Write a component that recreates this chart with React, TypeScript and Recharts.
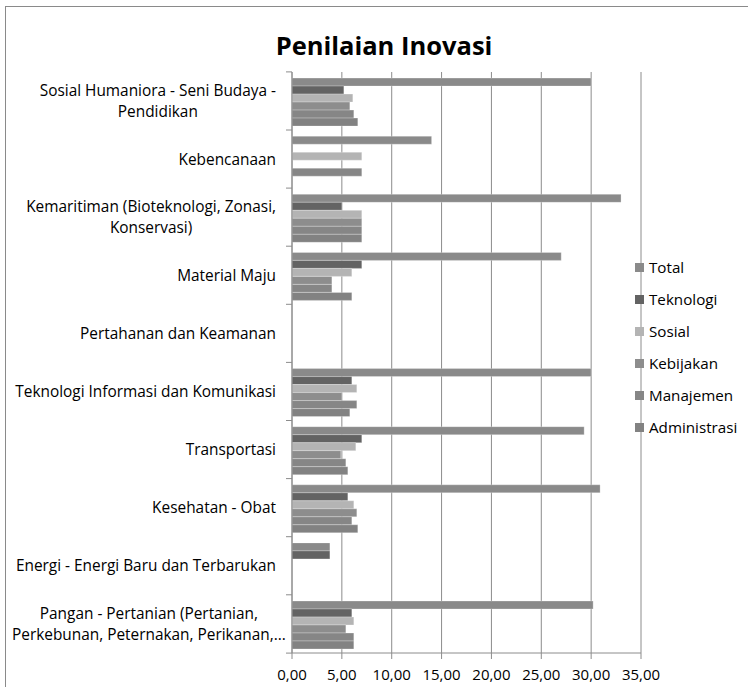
import { BarChart, Bar, XAxis, YAxis, CartesianGrid } from 'recharts';

const categories = [
  'Sosial Humaniora - Seni Budaya - Pendidikan',
  'Kebencanaan',
  'Kemaritiman (Bioteknologi, Zonasi, Konservasi)',
  'Material Maju',
  'Pertahanan dan Keamanan',
  'Teknologi Informasi dan Komunikasi',
  'Transportasi',
  'Kesehatan - Obat',
  'Energi - Energi Baru dan Terbarukan',
  'Pangan - Pertanian (Pertanian, Perkebunan, Peternakan, Perikanan,...',
];

// wrapped label lines as Excel shows them
const labelLines = [
  ['Sosial Humaniora - Seni Budaya -', 'Pendidikan'],
  ['Kebencanaan'],
  ['Kemaritiman (Bioteknologi, Zonasi,', 'Konservasi)'],
  ['Material Maju'],
  ['Pertahanan dan Keamanan'],
  ['Teknologi Informasi dan Komunikasi'],
  ['Transportasi'],
  ['Kesehatan - Obat'],
  ['Energi - Energi Baru dan Terbarukan'],
  ['Pangan - Pertanian (Pertanian,', 'Perkebunan, Peternakan, Perikanan,...'],
];

const total = [30, 14, 33, 27, null, 30, 29.3, 30.9, 3.8, 30.2];
const teknologi = [5.2, null, 5, 7, null, 6, 7, 5.6, 3.8, 6];
const sosial = [6.1, 7, 7, 6, null, 6.5, 6.4, 6.2, null, 6.2];
const kebijakan = [5.8, null, 7, 4, null, 5, 4.9, 6.5, null, 5.4];
const manajemen = [6.2, 7, 7, 4, null, 6.5, 5.4, 6, null, 6.2];
const administrasi = [6.6, null, 7, 6, null, 5.8, 5.6, 6.6, null, 6.2];

const xTicks = [0, 5, 10, 15, 20, 25, 30, 35];

const series = [
  { key: 'Total', color: '#8a8a8a' },
  { key: 'Teknologi', color: '#636363' },
  { key: 'Sosial', color: '#b4b4b4' },
  { key: 'Kebijakan', color: '#8d8d8d' },
  { key: 'Manajemen', color: '#868686' },
  { key: 'Administrasi', color: '#828282' },
];

const data = categories.map((name, i) => ({
  name,
  Total: total[i],
  Teknologi: teknologi[i],
  Sosial: sosial[i],
  Kebijakan: kebijakan[i],
  Manajemen: manajemen[i],
  Administrasi: administrasi[i],
}));

const FONT = '"Open Sans", sans-serif';
const LABEL_SIZE = 15.4;
const AXIS_COLOR = '#8c8c8c';

let ctx: CanvasRenderingContext2D | null = null;
function textWidth(s: string) {
  if (!ctx) ctx = document.createElement('canvas').getContext('2d');
  if (!ctx) return s.length * 7;
  ctx.font = `${LABEL_SIZE}px "Open Sans"`;
  return ctx.measureText(s).width;
}

function CategoryTick(props: any) {
  const { x, y, index, payload } = props;
  const lines = labelLines[index] ?? [payload.value];
  const band = 58.3;
  const right = x - 16;
  const blockW = Math.max(...lines.map(textWidth));
  // keep the label block inside the chart's left edge, like Excel does
  const cx = Math.max(12 + blockW / 2, right - blockW / 2);
  const lh = 21.5;
  const y0 = y - ((lines.length - 1) * lh) / 2;
  return (
    <g>
      <line x1={x - 6} x2={x} y1={y - band / 2} y2={y - band / 2} stroke={AXIS_COLOR} />
      {index === categories.length - 1 && (
        <line x1={x - 6} x2={x} y1={y + band / 2} y2={y + band / 2} stroke={AXIS_COLOR} />
      )}
      {lines.map((l: string, i: number) => (
        <text
          key={i}
          x={cx}
          y={y0 + i * lh}
          dy="0.35em"
          textAnchor="middle"
          fontFamily={FONT}
          fontSize={LABEL_SIZE}
          fill="#000"
        >
          {l}
        </text>
      ))}
    </g>
  );
}

export default function App() {
  return (
    <div style={{ position: 'absolute', left: 0, top: 0, width: 748, height: 687, background: '#fff' }}>
      <div
        style={{
          position: 'absolute',
          left: 5,
          top: 6,
          width: 743,
          height: 681,
          borderLeft: '1.5px solid #8a8a8a',
          borderTop: '1.5px solid #8a8a8a',
          boxSizing: 'border-box',
        }}
      />
      <div
        style={{
          position: 'absolute',
          left: 0,
          width: 768,
          top: 27,
          textAlign: 'center',
          fontFamily: FONT,
          fontWeight: 700,
          fontSize: 25.5,
          lineHeight: '36px',
        }}
      >
        Penilaian Inovasi
      </div>
      <div style={{ position: 'absolute', left: 0, top: 0 }}>
        <BarChart
          width={748}
          height={687}
          data={data}
          layout="vertical"
          margin={{ top: 72, right: 107, bottom: 0, left: 0 }}
          barCategoryGap="10.5%"
          barGap={0}
        >
          <CartesianGrid horizontal={false} stroke={AXIS_COLOR} />
          <XAxis
            type="number"
            domain={[0, 35]}
            ticks={xTicks}
            height={34}
            axisLine={{ stroke: AXIS_COLOR }}
            tickLine={{ stroke: AXIS_COLOR }}
            tickSize={6}
            tickMargin={10}
            tick={{ fontSize: 15, fill: '#000', fontFamily: FONT }}
            tickFormatter={(v: number) => v.toFixed(2).replace('.', ',')}
          />
          <YAxis
            type="category"
            dataKey="name"
            width={292}
            axisLine={{ stroke: AXIS_COLOR }}
            tickLine={false}
            tickSize={0}
            tickMargin={0}
            tick={<CategoryTick />}
            interval={0}
          />
          {series.map((s) => (
            <Bar key={s.key} dataKey={s.key} fill={s.color} stroke="#ffffff" strokeOpacity={0.45} strokeWidth={0.6} isAnimationActive={false} />
          ))}
        </BarChart>
      </div>
      <div style={{ position: 'absolute', left: 635, top: 251, fontFamily: FONT, fontSize: 15.2 }}>
        {series.map((s) => (
          <div key={s.key} style={{ display: 'flex', alignItems: 'center', height: 32 }}>
            <span style={{ width: 9, height: 9, background: s.color, marginRight: 5, display: 'inline-block' }} />
            <span style={{ color: '#000' }}>{s.key}</span>
          </div>
        ))}
      </div>
    </div>
  );
}
